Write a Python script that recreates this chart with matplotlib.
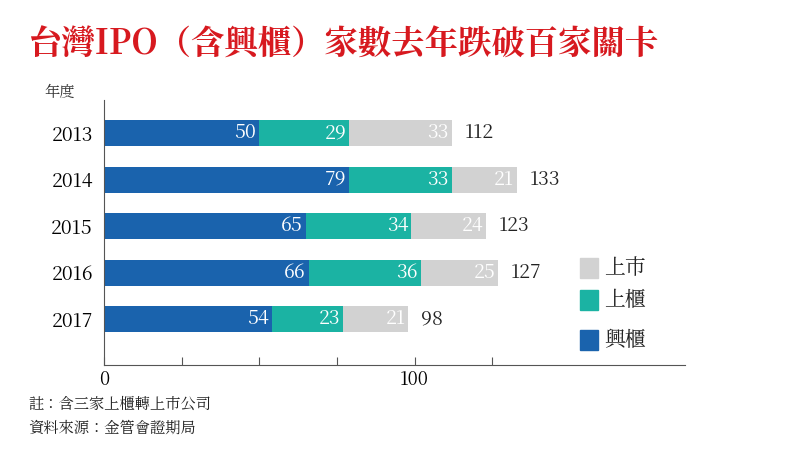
import matplotlib.pyplot as plt
from matplotlib import font_manager as fm

cjk = [f.name for f in fm.fontManager.ttflist if 'CJK' in f.name]
tc = [n for n in cjk if 'TC' in n] or cjk
plt.rcParams['font.family'] = (tc[:1] if tc else []) + ['DejaVu Sans']

years = ['2013', '2014', '2015', '2016', '2017']
xingui = [50, 79, 65, 66, 54]
shanggui = [29, 33, 34, 36, 23]
shangshi = [33, 21, 24, 25, 21]
totals = [112, 133, 123, 127, 98]

c_blue, c_teal, c_grey = '#1a63ad', '#1bb3a3', '#d2d2d2'

fig = plt.figure(figsize=(8, 4.53), dpi=100)
ax = fig.add_axes([0.13, 0.194, 0.726, 0.585])
pos = list(range(len(years)))
h = 0.56
ax.barh(pos, xingui, height=h, color=c_blue)
ax.barh(pos, shanggui, left=xingui, height=h, color=c_teal)
left2 = [a + b for a, b in zip(xingui, shanggui)]
ax.barh(pos, shangshi, left=left2, height=h, color=c_grey)

for i in pos:
    ends = [xingui[i], left2[i], left2[i] + shangshi[i]]
    vals = [xingui[i], shanggui[i], shangshi[i]]
    for e, v in zip(ends, vals):
        ax.text(e - 1, i, str(v), color='white', ha='right', va='center', fontsize=14)
    ax.text(totals[i] + 4, i, str(totals[i]), color='#222222', ha='left', va='center', fontsize=14)

ax.set_xlim(0, 187)
ax.set_ylim(4.99, -0.71)
ax.set_yticks(pos)
ax.set_yticklabels(years, fontsize=14)
ax.set_xticks([0, 25, 50, 75, 100, 125])
ax.set_xticklabels(['0', '', '', '', '100', ''], fontsize=13)
ax.tick_params(axis='y', length=0, pad=8)
ax.tick_params(axis='x', length=6, direction='in', color='#555555')
for s in ['top', 'right']:
    ax.spines[s].set_visible(False)
ax.spines['left'].set_color('#555555')
ax.spines['bottom'].set_color('#555555')

fig.text(0.055, 0.787, '年度', fontsize=11, color='#333333')
fig.text(0.035, 0.90, '台灣IPO（含興櫃）家數去年跌破百家關卡', fontsize=24,
         fontweight='bold', color='#d7191f', va='center')

for y, lab, c in [(0.408, '上市', c_grey), (0.337, '上櫃', c_teal), (0.25, '興櫃', c_blue)]:
    fig.patches.append(plt.Rectangle((0.725, y - 0.022), 0.022, 0.044, color=c,
                                     transform=fig.transFigure))
    fig.text(0.755, y, lab, fontsize=15, va='center', color='#222222')

fig.text(0.035, 0.097, '註：含三家上櫃轉上市公司', fontsize=11, color='#222222')
fig.text(0.035, 0.045, '資料來源：金管會證期局', fontsize=11, color='#222222')

fig.savefig('out.png', dpi=100)
